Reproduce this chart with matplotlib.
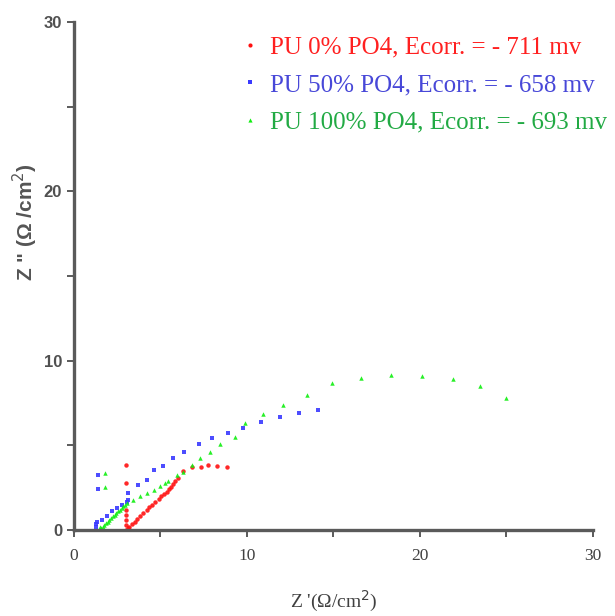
import matplotlib
matplotlib.use("Agg")
import matplotlib.pyplot as plt
from matplotlib.ticker import MultipleLocator
from matplotlib.lines import Line2D

# Nyquist data: Z' (real) and Z'' (imaginary), ohm/cm^2
pu0_zre = [3.0, 3.0, 3.0, 3.0, 3.0, 3.0, 3.0, 3.1, 3.2, 3.35, 3.5, 3.65, 3.8, 4.0,
           4.2, 4.35, 4.5, 4.7, 4.9, 5.05, 5.2, 5.35, 5.5, 5.6, 5.7, 5.85, 6.0,
           6.3, 6.85, 7.35, 7.75, 8.25, 8.85]
pu0_zim = [0.0, 0.3, 0.6, 0.9, 1.2, 2.8, 3.85, 0.1, 0.2, 0.35, 0.5, 0.65, 0.85, 1.0,
           1.2, 1.35, 1.5, 1.65, 1.85, 2.0, 2.1, 2.25, 2.4, 2.55, 2.7, 2.9, 3.05,
           3.5, 3.7, 3.75, 3.85, 3.8, 3.75]

pu50_zre = [1.25, 1.3, 1.35, 1.4, 1.4, 1.6, 1.9, 2.2, 2.5, 2.8, 3.05, 3.1, 3.1,
            3.7, 4.2, 4.6, 5.15, 5.7, 6.35, 7.2, 8.0, 8.9, 9.75, 10.8, 11.9, 13.0, 14.1]
pu50_zim = [0.2, 0.35, 0.5, 2.4, 3.25, 0.6, 0.85, 1.1, 1.3, 1.5, 1.65, 1.75, 2.2,
            2.65, 2.95, 3.55, 3.8, 4.25, 4.6, 5.1, 5.45, 5.7, 6.0, 6.35, 6.7, 6.9, 7.1]

pu100_zre = [1.5, 1.5, 1.55, 1.65, 1.75, 1.85, 1.95, 2.05, 2.15, 2.25, 2.35, 2.45,
             2.55, 2.65, 2.75, 2.85, 2.95, 3.05, 1.8, 1.8, 3.4, 3.8, 4.2, 4.6, 5.0,
             5.25, 5.45, 5.95, 6.3, 6.8, 7.3, 7.85, 8.45, 9.3, 9.9, 10.9, 12.1, 13.45,
             14.9, 16.6, 18.35, 20.1, 21.9, 23.45, 25.0]
pu100_zim = [0.0, 0.15, 0.1, 0.2, 0.3, 0.4, 0.5, 0.6, 0.7, 0.8, 0.9, 1.0,
             1.1, 1.2, 1.3, 1.4, 1.5, 1.6, 2.55, 3.35, 1.75, 2.0, 2.2, 2.35, 2.6,
             2.8, 2.9, 3.25, 3.4, 3.85, 4.25, 4.6, 5.1, 5.5, 6.3, 6.85, 7.4, 8.0,
             8.7, 9.0, 9.15, 9.1, 8.9, 8.5, 7.8]

labels = ["PU 0% PO4, Ecorr. = - 711 mv",
          "PU 50% PO4, Ecorr. = - 658 mv",
          "PU 100% PO4, Ecorr. = - 693 mv"]
marker_colors = ["#ff1010", "#3a3aff", "#10ee10"]
text_colors = ["#ff2020", "#4848d8", "#22aa44"]
markers = ["o", "s", "^"]

fig = plt.figure(figsize=(6.15, 6.16), dpi=100)
ax = fig.add_axes([0.1203, 0.1396, 0.8439, 0.8247])

series = [(pu0_zre, pu0_zim), (pu50_zre, pu50_zim), (pu100_zre, pu100_zim)]
for (zx, zy), c, m in zip(series, marker_colors, markers):
    ax.plot(zx, zy, linestyle="none", marker=m, markersize=3.2,
            color=c, markeredgewidth=0, alpha=0.9)

ax.set_xlim(0, 30)
ax.set_ylim(0, 30)
ax.xaxis.set_major_locator(MultipleLocator(10))
ax.xaxis.set_minor_locator(MultipleLocator(5))
ax.yaxis.set_major_locator(MultipleLocator(10))
ax.yaxis.set_minor_locator(MultipleLocator(5))

for side in ("top", "right"):
    ax.spines[side].set_visible(False)
for side in ("left", "bottom"):
    ax.spines[side].set_color("#5a5a5a")
    ax.spines[side].set_linewidth(2.4)

ax.tick_params(which="both", direction="out", length=5, width=1.4, color="#5a5a5a")
ax.tick_params(axis="x", which="major", pad=8)

for t in ax.get_yticklabels():
    t.set_fontfamily("Liberation Sans")
    t.set_fontsize(12)
    t.set_fontweight("bold")
    t.set_color("#505050")
for t in ax.get_xticklabels():
    t.set_fontfamily("Liberation Serif")
    t.set_fontsize(12.5)
    t.set_color("#404040")

ax.set_ylabel("Z \" (\u03a9 /cm$^2$)", fontfamily="Liberation Sans", fontsize=15,
              fontweight="bold", color="#555555")
ax.yaxis.set_label_coords(-0.066, 0.606)
ax.set_xlabel("Z '(\u03a9/cm$^2$)", fontfamily="Liberation Serif", fontsize=14,
              color="#404040", labelpad=18)

handles = [Line2D([], [], linestyle="none", marker=m, markersize=3, color=c,
                  markeredgewidth=0) for m, c in zip(markers, marker_colors)]
leg = ax.legend(handles, labels, loc="upper left", bbox_to_anchor=(0.32, 0.972),
                frameon=False, borderpad=0, borderaxespad=0,
                prop={"family": "Liberation Serif", "size": 18},
                handlelength=0.8, handletextpad=0.4, labelspacing=0.6)
for txt, c in zip(leg.get_texts(), text_colors):
    txt.set_color(c)

fig.savefig("out.png", dpi=100)
